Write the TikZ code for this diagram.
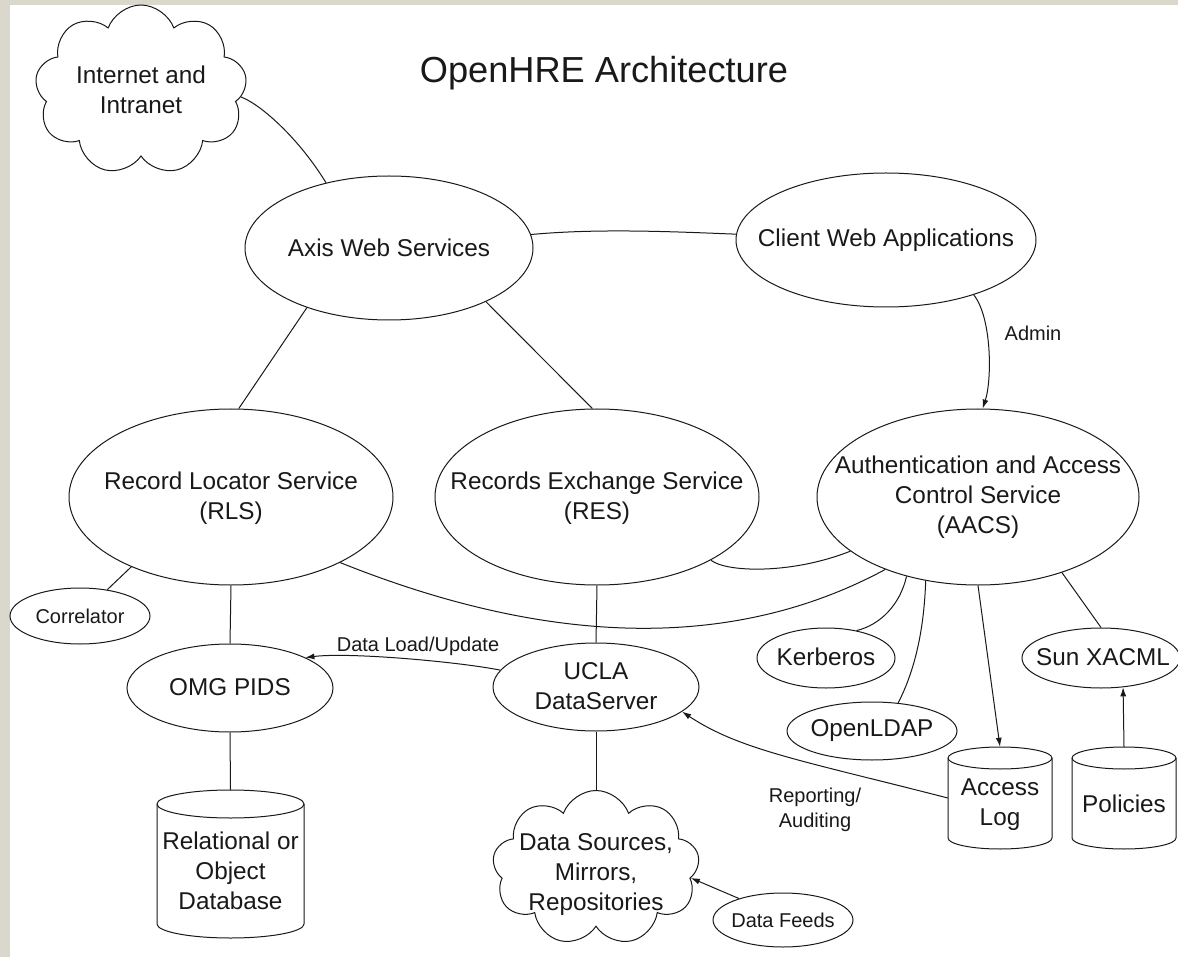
\documentclass[tikz,border=0pt]{standalone}
\usepackage{fontspec}
\setmainfont{Liberation Sans}
\usetikzlibrary{shapes.geometric,shapes.symbols,arrows.meta}
\definecolor{beige}{RGB}{218,216,204}
\definecolor{ink}{RGB}{25,25,25}
% #1 left x, #2 right x, #3 top y, #4 bottom y, #5 cap radius
\newcommand\drawcyl[5]{%
  \pgfmathsetmacro\cylrx{(#2-#1)/2}%
  \draw[line width=1pt, draw=ink, fill=white] (#1,#3+#5) -- (#1,#4-#5)
    arc[start angle=180, end angle=360, x radius=\cylrx pt, y radius=#5pt]
    -- (#2,#3+#5)
    arc[start angle=0, end angle=180, x radius=\cylrx pt, y radius=#5pt] -- cycle;
  \draw[line width=1pt, draw=ink] (#1,#3+#5)
    arc[start angle=180, end angle=360, x radius=\cylrx pt, y radius=#5pt];
}
\begin{document}
\begin{tikzpicture}[x=1pt,y=-1pt,
  ell/.style={ellipse, draw=ink, fill=white, inner sep=0pt, line width=1pt},
  txt/.style={align=center, inner sep=0pt, text=ink, font=\fontsize{24.3}{30}\selectfont},
  sml/.style={align=center, inner sep=0pt, text=ink, font=\fontsize{20}{25}\selectfont},
  cld/.style={cloud, draw=ink, fill=white, cloud puffs=9, cloud puff arc=140,
    cloud ignores aspect, inner sep=0pt, line width=1pt},
  cylbox/.style={rectangle, inner sep=0pt},
  conn/.style={line width=1pt, draw=ink},
  arr/.style={line width=1pt, draw=ink, -{Latex[length=9pt,width=6pt]}}
]
\useasboundingbox (0,0) rectangle (1178,957);
\fill[white] (0,0) rectangle (1178,957);
\fill[beige] (0,0) rectangle (10,957);
\fill[beige] (0,0) rectangle (1178,5);

% title
\node[txt, font=\fontsize{36.2}{43}\selectfont] (title) at (604,73) {OpenHRE Architecture};

% clouds
\node[cld, minimum width=212, minimum height=170, shape border rotate=10] (inet) at (141,90) {};
\node[txt] (inetT) at (141,90) {Internet and\\Intranet};
\node[cld, minimum width=207, minimum height=155, shape border rotate=-10] (ds) at (596,868) {};
\node[txt] (dsT) at (596,875) {Data Sources,\\Mirrors,\\Repositories};

% ellipses
\node[ell, minimum width=288, minimum height=144] (axis) at (389,248) {};
\node[txt] (axisT) at (389,248) {Axis Web Services};
\node[ell, minimum width=300, minimum height=134] (client) at (886,240) {};
\node[txt] (clientT) at (886,240) {Client Web Applications};
\node[ell, minimum width=324, minimum height=176] (rls) at (231,497) {};
\node[txt] (rlsT) at (231,498) {Record Locator Service\\(RLS)};
\node[ell, minimum width=324, minimum height=176] (res) at (597,497) {};
\node[txt] (resT) at (597,498) {Records Exchange Service\\(RES)};
\node[ell, minimum width=322, minimum height=176] (aacs) at (978,497) {};
\node[txt] (aacsT) at (978,497) {Authentication and Access\\Control Service\\(AACS)};
\node[ell, minimum width=140, minimum height=56] (corr) at (80,616) {};
\node[sml] (corrT) at (80,616) {Correlator};
\node[ell, minimum width=206, minimum height=88] (omg) at (230,688) {};
\node[txt] (omgT) at (230,687) {OMG PIDS};
\node[ell, minimum width=206, minimum height=88] (ucla) at (596,687) {};
\node[txt] (uclaT) at (596,686) {UCLA\\DataServer};
\node[ell, minimum width=138, minimum height=60] (kerb) at (826,658) {};
\node[txt] (kerbT) at (826,657) {Kerberos};
\node[ell, minimum width=170, minimum height=58] (ldap) at (872,731) {};
\node[txt] (ldapT) at (872,731) {OpenLDAP};
\node[ell, minimum width=158, minimum height=60] (sun) at (1101,658) {};
\node[txt] (sunT) at (1103,657) {Sun XACML};
\node[ell, minimum width=140, minimum height=54] (feeds) at (783,920) {};
\node[sml] (feedsT) at (783,920) {Data Feeds};

% cylinders
\drawcyl{157}{304}{790}{938}{14}
\node[cylbox, minimum width=147, minimum height=148] (db) at (230.5,864) {};
\node[txt] (dbT) at (230.5,871) {Relational or\\Object\\Database};
\drawcyl{948}{1052}{747}{849}{11}
\node[cylbox, minimum width=104, minimum height=102] (alog) at (1000,798) {};
\node[txt] (alogT) at (1000,805) {Access\\Log};
\drawcyl{1072}{1176}{747}{849}{11}
\node[cylbox, minimum width=104, minimum height=102] (pol) at (1124,798) {};
\node[txt] (polT) at (1124,804) {Policies};

% connectors
\draw[conn] (inet.-4) .. controls (262,105) and (300,140) .. (axis.134);
\draw[conn] (axis) .. controls (600,228) and (680,232) .. (client);
\draw[arr] (client.-32) .. controls (992,318) and (992,380) .. (aacs.87);
\draw[conn] (axis.216) -- (rls.85);
\draw[conn] (axis.-29) -- (res.93);
\draw[conn] (rls.south) -- (omg.north);
\draw[conn] (rls.215) -- (corr.44);
\draw[conn] (rls.-31) .. controls (553,648) and (736,650) .. (aacs.218);
\draw[conn] (res.-29) .. controls (725,572) and (790,575) .. (aacs.203);
\draw[conn] (res.south) -- (ucla.north);
\draw[arr] (ucla.170) .. controls (460,662) and (350,652) .. (omg.22);
\draw[conn] (omg.south) -- (db.north);
\draw[conn] (ucla.south) -- (ds.north);
\draw[arr] (feeds.154) -- (ds.-6);
\draw[arr] (alog.west) .. controls (800,760) and (740,750) .. (ucla.-16);
\draw[arr] (aacs.south) -- (alog.north);
\draw[conn] (aacs.-42) -- (sun.north);
\draw[arr] (pol.north) -- (sun.-53);
\draw[conn] (aacs.228) .. controls (900,605) and (880,625) .. (kerb.42);
\draw[conn] (aacs.238) .. controls (924,630) and (915,670) .. (ldap.47);

% labels
\node[sml] (adminL) at (1033,333) {Admin};
\node[sml] (dlL) at (418,646) {Data Load/Update};
\node[sml] (repL) at (815,810) {Reporting/\\Auditing};
\end{tikzpicture}
\end{document}
